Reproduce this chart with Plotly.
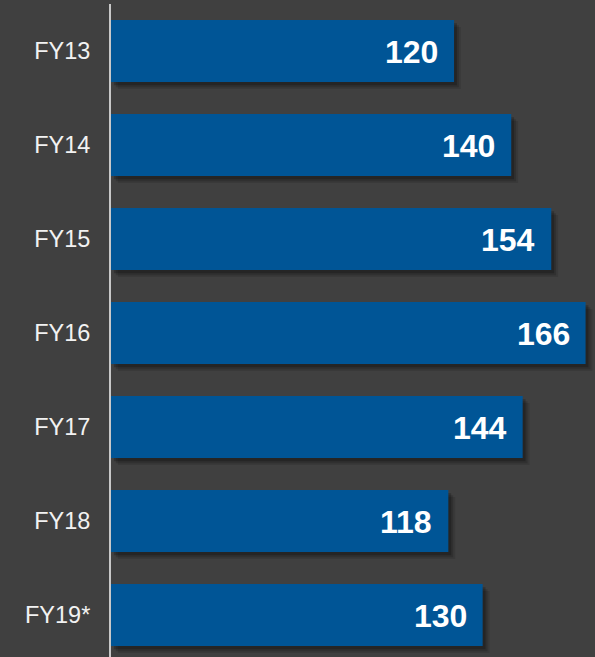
import plotly.graph_objects as go

categories = ["FY13", "FY14", "FY15", "FY16", "FY17", "FY18", "FY19*"]
values = [120, 140, 154, 166, 144, 118, 130]

BG = "#404040"
BAR = "#005596"

fig = go.Figure()

# soft drop shadow layers (derived from the same data)
for dx, dy, a in [(2.4, 0.075, 0.10), (1.7, 0.055, 0.15), (1.0, 0.035, 0.22)]:
    fig.add_trace(go.Bar(
        y=categories, x=values, base=dx, orientation="h",
        width=0.66, offset=-0.33 + dy,
        marker=dict(color=f"rgba(0,0,0,{a})", line=dict(width=0)),
        hoverinfo="skip", showlegend=False,
    ))

fig.add_trace(go.Bar(
    y=categories, x=values, orientation="h",
    width=0.66, offset=-0.33,
    marker=dict(color=BAR, line=dict(width=0)),
    showlegend=False,
))

for c, v in zip(categories, values):
    fig.add_annotation(
        x=v, y=c, text=f"<b>{v}</b>", showarrow=False,
        xanchor="right", yanchor="middle", xshift=-14, yshift=-1,
        font=dict(family="Liberation Sans, Arial", size=32, color="white"),
    )

fig.update_layout(
    width=595, height=657,
    margin=dict(l=111, r=0, t=4, b=0),
    paper_bgcolor=BG, plot_bgcolor=BG,
    barmode="overlay",
    font=dict(family="Liberation Sans, Arial", color="#f2f2f2"),
    xaxis=dict(range=[0, 169.3], visible=False, showgrid=False, zeroline=False),
    yaxis=dict(
        range=[6.447, -0.5], showgrid=False, zeroline=False,
        showline=True, linecolor="#c8c8c8", linewidth=2,
        ticks="", ticklabelstandoff=14,
        tickfont=dict(size=23.5, color="#f2f2f2"),
    ),
)

fig.write_html(
    "out.html",
    config={"displayModeBar": False},
    post_script="document.body.style.margin='0';document.body.style.background='#404040';",
)
